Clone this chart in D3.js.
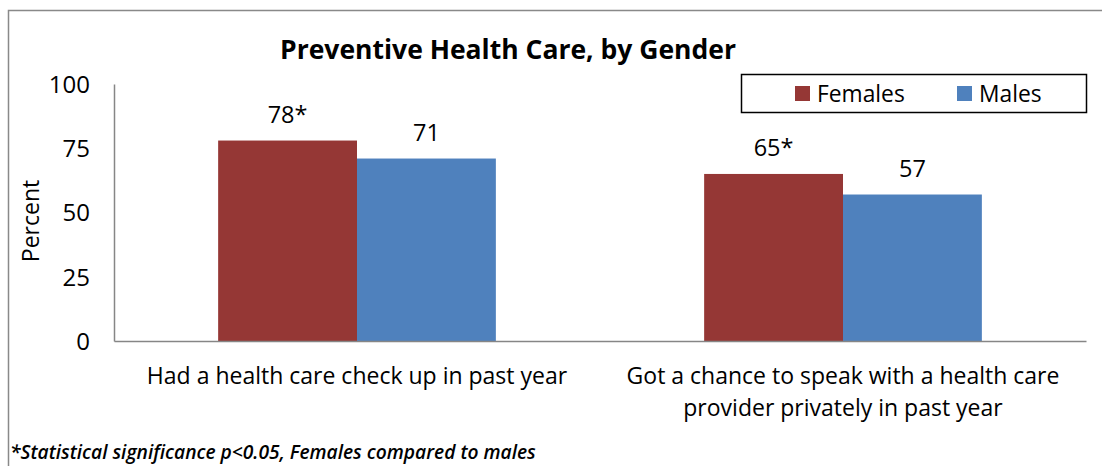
<!DOCTYPE html>
<html>
<head>
<meta charset="utf-8">
<script src="https://cdn.jsdelivr.net/npm/d3@7/dist/d3.min.js"></script>
<style>
  html, body { margin: 0; padding: 0; background: #fff; }
  svg { display: block; }
  text { font-family: "Open Sans", "Liberation Sans", sans-serif; fill: #000; }
</style>
</head>
<body>
<script>
// Chart data
const categories = [
  ["Had a health care check up in past year"],
  ["Got a chance to speak with a health care", "provider privately in past year"]
];
const seriesNames = ["Females", "Males"];
const females = [78, 65];
const males = [71, 57];
const femaleLabels = ["78*", "65*"];
const maleLabels = ["71", "57"];
const yTicks = [0, 25, 50, 75, 100];

const colors = { Females: "#953735", Males: "#4F81BD" };

const W = 1102, H = 466;
const svg = d3.select("body").append("svg").attr("width", W).attr("height", H);

// Outer chart frame
svg.append("rect")
  .attr("x", 8.5).attr("y", 10.5)
  .attr("width", W).attr("height", H)
  .attr("fill", "none").attr("stroke", "#898989").attr("stroke-width", 1.5);

const plot = { left: 114, right: 1086, top: 84, bottom: 341 };

const x0 = d3.scaleBand()
  .domain(d3.range(categories.length))
  .range([plot.left, plot.right]);

// 150% gap width between groups
const groupW = x0.bandwidth() / 1.75;
const x1 = d3.scaleBand()
  .domain(seriesNames)
  .range([0, groupW]);

const y = d3.scaleLinear().domain([0, 100]).range([plot.bottom, plot.top]);

const rows = categories.map((c, i) => ({
  i,
  values: [
    { s: "Females", v: females[i], label: femaleLabels[i] },
    { s: "Males", v: males[i], label: maleLabels[i] }
  ]
}));

// Bars
const groups = svg.append("g").selectAll("g").data(rows).join("g")
  .attr("transform", d => `translate(${x0(d.i) + (x0.bandwidth() - groupW) / 2},0)`);

groups.selectAll("rect").data(d => d.values).join("rect")
  .attr("x", d => x1(d.s))
  .attr("y", d => y(d.v))
  .attr("width", x1.bandwidth())
  .attr("height", d => y(0) - y(d.v))
  .attr("fill", d => colors[d.s]);

// Value labels
groups.selectAll("text").data(d => d.values).join("text")
  .attr("x", d => x1(d.s) + x1.bandwidth() / 2)
  .attr("y", d => y(d.v) - 18)
  .attr("text-anchor", "middle")
  .style("font-size", "23.5px")
  .text(d => d.label);

// Y axis
const yAxis = d3.axisLeft(y).tickValues(yTicks).tickSize(0).tickPadding(24);
const yg = svg.append("g").attr("transform", `translate(${plot.left},0)`).call(yAxis);
yg.select(".domain").attr("stroke", "#868686").attr("stroke-width", 1.5);
yg.selectAll(".tick text").style("font-size", "24px").attr("dy", "0.35em");

// X axis baseline
const xAxis = d3.axisBottom(x0).tickSize(0).tickFormat("");
const xg = svg.append("g").attr("transform", `translate(0,${plot.bottom})`).call(xAxis);
xg.select(".domain").attr("stroke", "#868686").attr("stroke-width", 1.5);

// Category labels
const catG = svg.append("g").selectAll("text").data(categories).join("text")
  .attr("text-anchor", "middle")
  .attr("transform", (d, i) => `translate(${x0(i) + x0.bandwidth() / 2},0)`)
  .style("font-size", "23px");
catG.selectAll("tspan").data(d => d).join("tspan")
  .attr("x", 0)
  .attr("y", (d, j) => 384 + j * 32)
  .text(d => d);

// Y axis title
svg.append("text")
  .attr("transform", "translate(39,221) rotate(-90)")
  .attr("text-anchor", "middle")
  .style("font-size", "23px")
  .text("Percent");

// Title
svg.append("text")
  .attr("x", 508).attr("y", 59)
  .attr("text-anchor", "middle")
  .style("font-size", "26.5px")
  .style("font-weight", "bold")
  .text("Preventive Health Care, by Gender");

// Legend
const lg = svg.append("g");
lg.append("rect")
  .attr("x", 741.5).attr("y", 74.5)
  .attr("width", 345).attr("height", 38)
  .attr("fill", "#fff").attr("stroke", "#000").attr("stroke-width", 1.5);
const legendX = [795, 957];
const items = lg.selectAll("g.item").data(seriesNames).join("g")
  .attr("class", "item")
  .attr("transform", (d, i) => `translate(${legendX[i]},86)`);
items.append("rect").attr("width", 15).attr("height", 15).attr("fill", d => colors[d]);
items.append("text").attr("x", 22).attr("y", 16).style("font-size", "22.8px").text(d => d);

// Footnote
svg.append("text")
  .attr("x", 10).attr("y", 459)
  .style("font-size", "19.2px")
  .style("font-style", "italic")
  .style("font-weight", "600")
  .text("*Statistical significance p<0.05, Females compared to males");
</script>
</body>
</html>
